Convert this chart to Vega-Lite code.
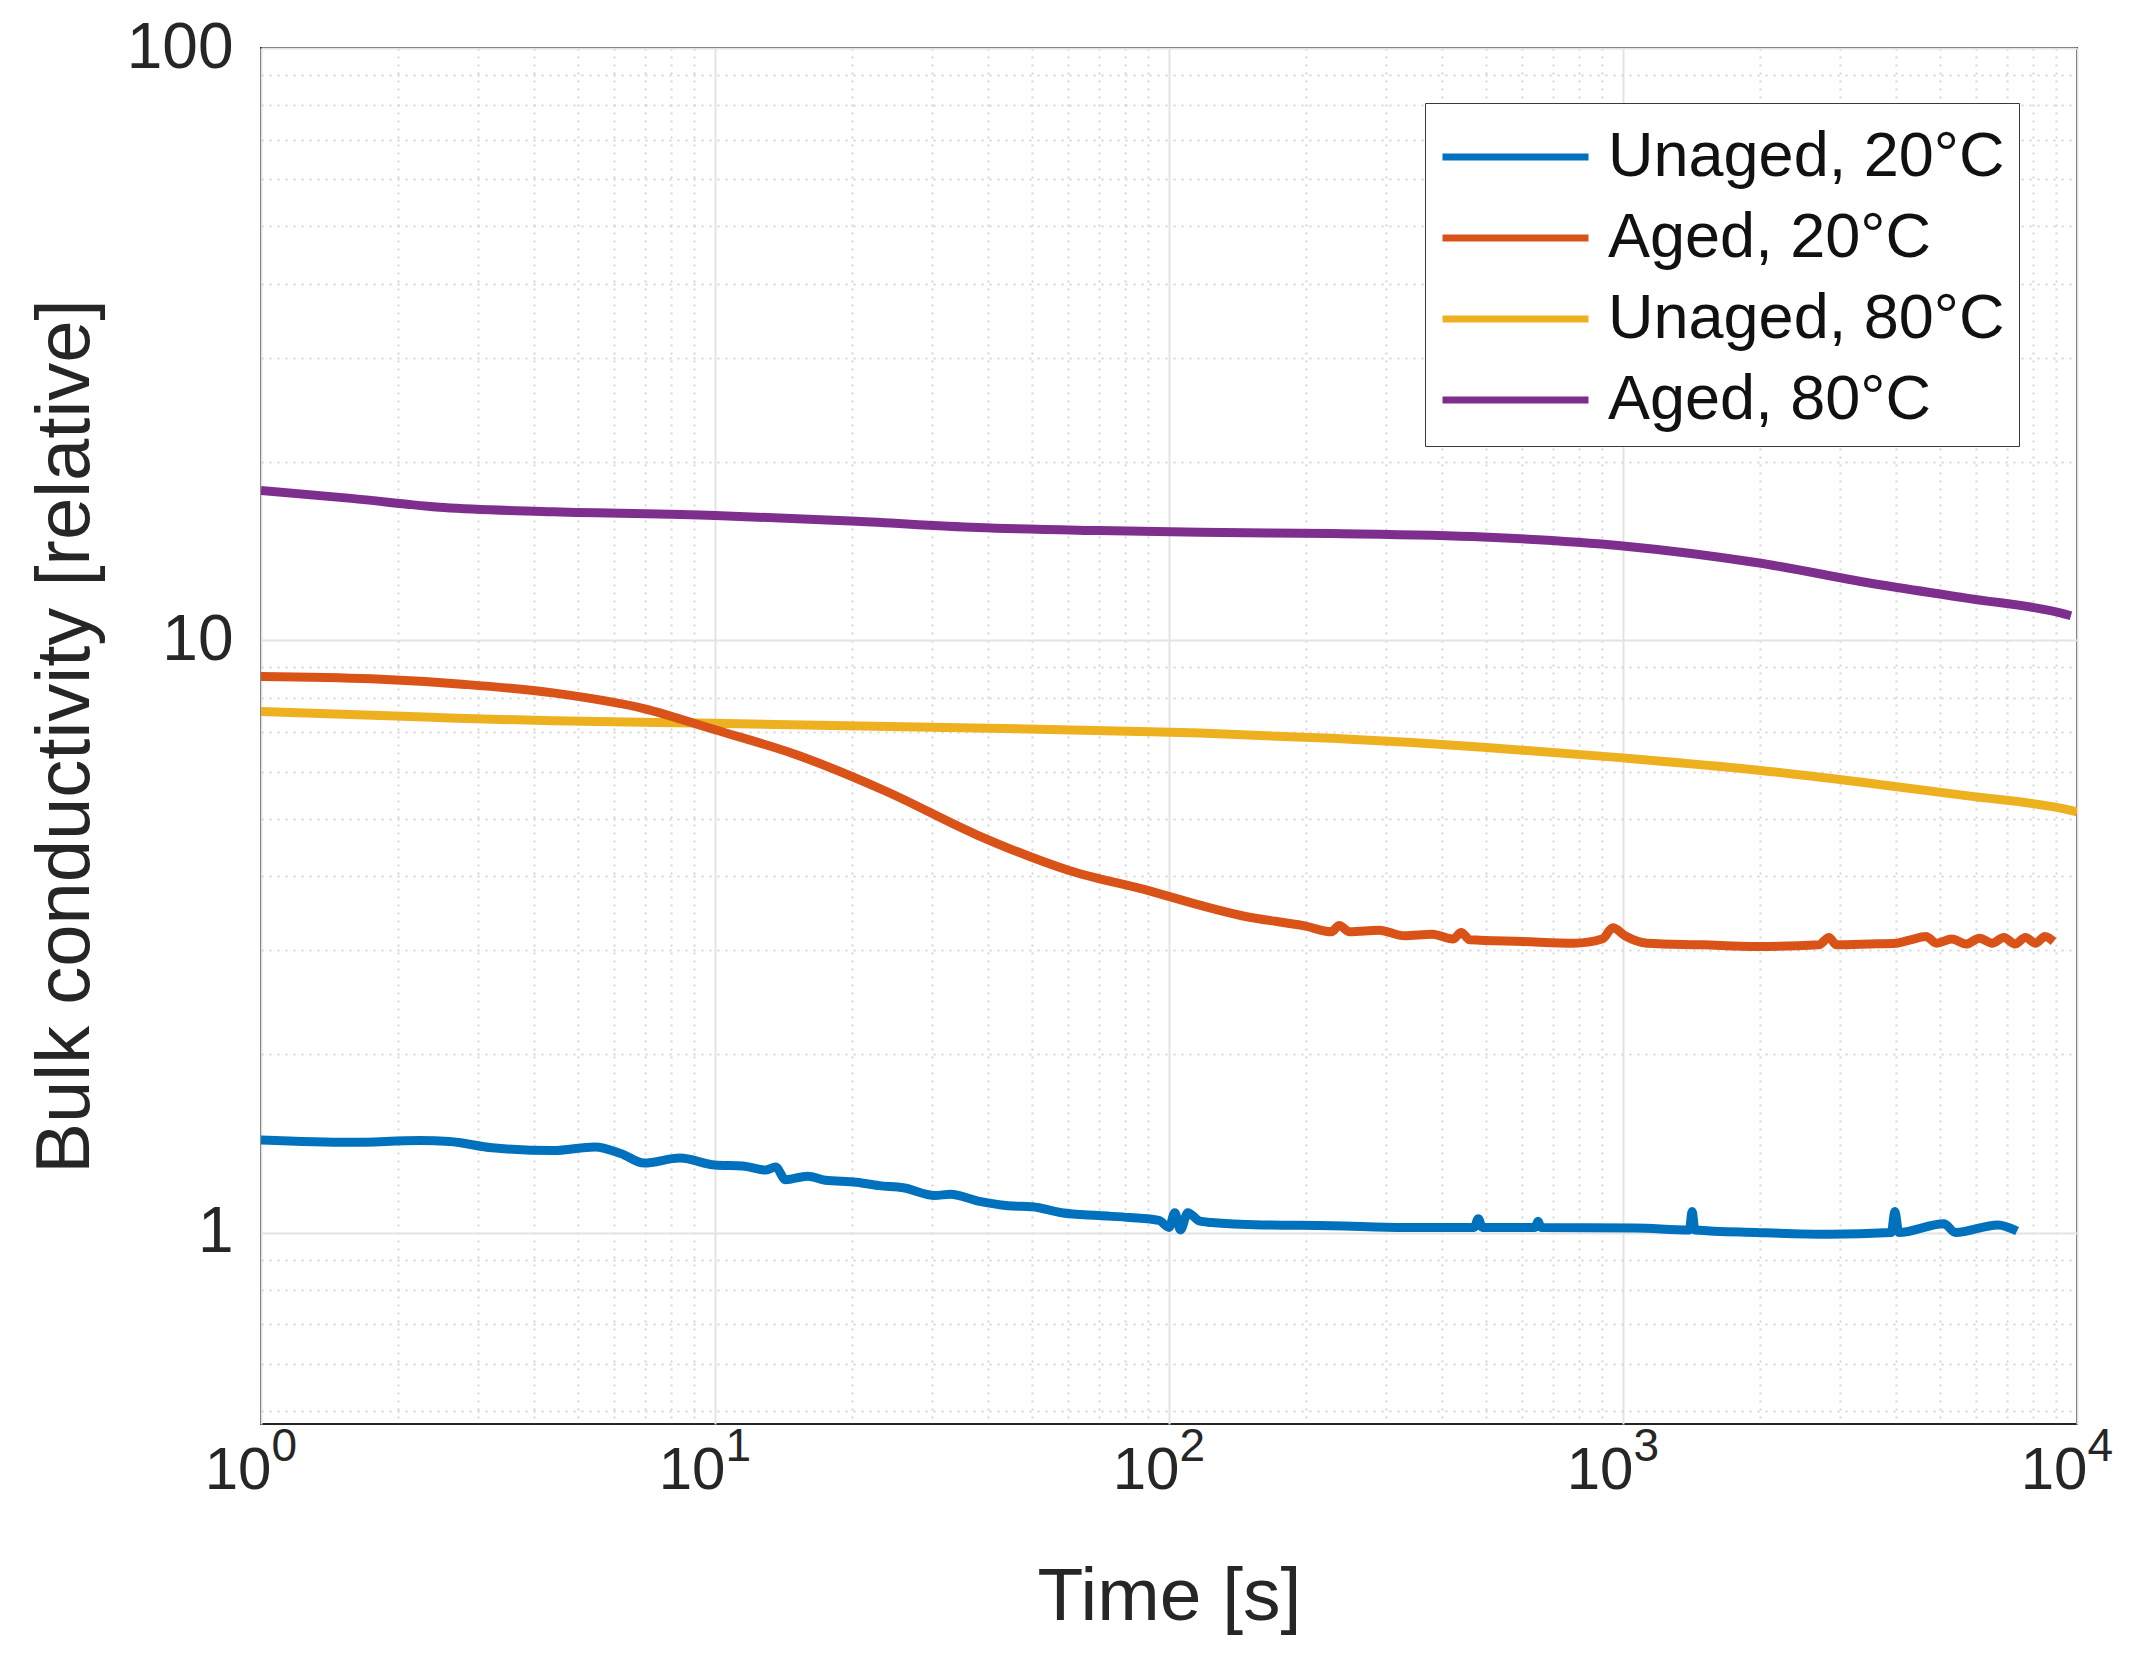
{
  "$schema": "https://vega.github.io/schema/vega-lite/v6.json",
  "width": 1816,
  "height": 1376,
  "autosize": "none",
  "padding": {"left": 261, "top": 48, "right": 77, "bottom": 247},
  "background": "white",
  "config": {
    "view": {"stroke": "#262626", "strokeWidth": 2},
    "font": "Liberation Sans",
    "axis": {
      "labelFont": "Liberation Sans",
      "titleFont": "Liberation Sans",
      "labelColor": "#262626",
      "titleColor": "#262626",
      "titleFontWeight": "normal",
      "domain": false,
      "ticks": false,
      "labelOverlap": false,
      "labelFlush": false,
      "gridWidth": 2
    },
    "legend": {
      "labelFont": "Liberation Sans",
      "labelFontSize": 63,
      "labelColor": "#111111",
      "labelLimit": 0
    }
  },
  "data": {
    "values": [
      {"series": "Aged, 80°C", "t": 1, "v": 17.9},
      {"series": "Aged, 80°C", "t": 1.58, "v": 17.36},
      {"series": "Aged, 80°C", "t": 2.53, "v": 16.75},
      {"series": "Aged, 80°C", "t": 4.4, "v": 16.48},
      {"series": "Aged, 80°C", "t": 10, "v": 16.25},
      {"series": "Aged, 80°C", "t": 20.5, "v": 15.88},
      {"series": "Aged, 80°C", "t": 37.8, "v": 15.5},
      {"series": "Aged, 80°C", "t": 70, "v": 15.32},
      {"series": "Aged, 80°C", "t": 117, "v": 15.22},
      {"series": "Aged, 80°C", "t": 228, "v": 15.14},
      {"series": "Aged, 80°C", "t": 492, "v": 14.94},
      {"series": "Aged, 80°C", "t": 1000, "v": 14.43},
      {"series": "Aged, 80°C", "t": 1963, "v": 13.53},
      {"series": "Aged, 80°C", "t": 3625, "v": 12.43},
      {"series": "Aged, 80°C", "t": 5755, "v": 11.77},
      {"series": "Aged, 80°C", "t": 9415, "v": 11.07},
      {"series": "Aged, 80°C", "t": 9700, "v": 11.0},

      {"series": "Unaged, 80°C", "t": 1, "v": 7.58},
      {"series": "Unaged, 80°C", "t": 2.38, "v": 7.41},
      {"series": "Unaged, 80°C", "t": 4.4, "v": 7.31},
      {"series": "Unaged, 80°C", "t": 10, "v": 7.24},
      {"series": "Unaged, 80°C", "t": 27.9, "v": 7.14},
      {"series": "Unaged, 80°C", "t": 91, "v": 7.01},
      {"series": "Unaged, 80°C", "t": 117, "v": 6.97},
      {"series": "Unaged, 80°C", "t": 228, "v": 6.83},
      {"series": "Unaged, 80°C", "t": 492, "v": 6.6},
      {"series": "Unaged, 80°C", "t": 1000, "v": 6.33},
      {"series": "Unaged, 80°C", "t": 1963, "v": 6.04},
      {"series": "Unaged, 80°C", "t": 3855, "v": 5.68},
      {"series": "Unaged, 80°C", "t": 5755, "v": 5.46},
      {"series": "Unaged, 80°C", "t": 9700, "v": 5.16},
      {"series": "Unaged, 80°C", "t": 10000, "v": 5.13},

      {"series": "Aged, 20°C", "t": 1, "v": 8.69},
      {"series": "Aged, 20°C", "t": 1.75, "v": 8.61},
      {"series": "Aged, 20°C", "t": 2.77, "v": 8.43},
      {"series": "Aged, 20°C", "t": 4.4, "v": 8.15},
      {"series": "Aged, 20°C", "t": 7, "v": 7.66},
      {"series": "Aged, 20°C", "t": 10, "v": 7.06},
      {"series": "Aged, 20°C", "t": 15, "v": 6.42},
      {"series": "Aged, 20°C", "t": 23.8, "v": 5.56},
      {"series": "Aged, 20°C", "t": 37.8, "v": 4.69},
      {"series": "Aged, 20°C", "t": 60, "v": 4.09},
      {"series": "Aged, 20°C", "t": 91, "v": 3.77},
      {"series": "Aged, 20°C", "t": 117, "v": 3.57},
      {"series": "Aged, 20°C", "t": 144, "v": 3.43},
      {"series": "Aged, 20°C", "t": 200, "v": 3.29},
      {"series": "Aged, 20°C", "t": 228, "v": 3.22},
      {"series": "Aged, 20°C", "t": 237, "v": 3.3},
      {"series": "Aged, 20°C", "t": 250, "v": 3.22},
      {"series": "Aged, 20°C", "t": 290, "v": 3.24},
      {"series": "Aged, 20°C", "t": 330, "v": 3.17},
      {"series": "Aged, 20°C", "t": 380, "v": 3.19},
      {"series": "Aged, 20°C", "t": 422, "v": 3.13},
      {"series": "Aged, 20°C", "t": 440, "v": 3.21},
      {"series": "Aged, 20°C", "t": 460, "v": 3.12},
      {"series": "Aged, 20°C", "t": 600, "v": 3.1},
      {"series": "Aged, 20°C", "t": 780, "v": 3.08},
      {"series": "Aged, 20°C", "t": 900, "v": 3.13},
      {"series": "Aged, 20°C", "t": 950, "v": 3.27},
      {"series": "Aged, 20°C", "t": 1010, "v": 3.17},
      {"series": "Aged, 20°C", "t": 1130, "v": 3.08},
      {"series": "Aged, 20°C", "t": 1500, "v": 3.06},
      {"series": "Aged, 20°C", "t": 1963, "v": 3.04},
      {"series": "Aged, 20°C", "t": 2700, "v": 3.06},
      {"series": "Aged, 20°C", "t": 2843, "v": 3.15},
      {"series": "Aged, 20°C", "t": 2950, "v": 3.06},
      {"series": "Aged, 20°C", "t": 3500, "v": 3.07},
      {"series": "Aged, 20°C", "t": 4000, "v": 3.08},
      {"series": "Aged, 20°C", "t": 4300, "v": 3.12},
      {"series": "Aged, 20°C", "t": 4650, "v": 3.16},
      {"series": "Aged, 20°C", "t": 4900, "v": 3.08},
      {"series": "Aged, 20°C", "t": 5300, "v": 3.13},
      {"series": "Aged, 20°C", "t": 5700, "v": 3.07},
      {"series": "Aged, 20°C", "t": 6100, "v": 3.14},
      {"series": "Aged, 20°C", "t": 6500, "v": 3.08},
      {"series": "Aged, 20°C", "t": 6900, "v": 3.15},
      {"series": "Aged, 20°C", "t": 7300, "v": 3.07},
      {"series": "Aged, 20°C", "t": 7700, "v": 3.15},
      {"series": "Aged, 20°C", "t": 8100, "v": 3.08},
      {"series": "Aged, 20°C", "t": 8500, "v": 3.16},
      {"series": "Aged, 20°C", "t": 8880, "v": 3.1},

      {"series": "Unaged, 20°C", "t": 1, "v": 1.433},
      {"series": "Unaged, 20°C", "t": 1.58, "v": 1.42},
      {"series": "Unaged, 20°C", "t": 2.24, "v": 1.43},
      {"series": "Unaged, 20°C", "t": 2.6, "v": 1.425},
      {"series": "Unaged, 20°C", "t": 3.23, "v": 1.39},
      {"series": "Unaged, 20°C", "t": 4.4, "v": 1.375},
      {"series": "Unaged, 20°C", "t": 5.44, "v": 1.395},
      {"series": "Unaged, 20°C", "t": 6.2, "v": 1.36},
      {"series": "Unaged, 20°C", "t": 6.98, "v": 1.31},
      {"series": "Unaged, 20°C", "t": 8.37, "v": 1.336},
      {"series": "Unaged, 20°C", "t": 10, "v": 1.3},
      {"series": "Unaged, 20°C", "t": 11.5, "v": 1.295},
      {"series": "Unaged, 20°C", "t": 12.9, "v": 1.275},
      {"series": "Unaged, 20°C", "t": 13.6, "v": 1.29},
      {"series": "Unaged, 20°C", "t": 14.3, "v": 1.228},
      {"series": "Unaged, 20°C", "t": 16, "v": 1.245},
      {"series": "Unaged, 20°C", "t": 17.5, "v": 1.225},
      {"series": "Unaged, 20°C", "t": 20.5, "v": 1.216},
      {"series": "Unaged, 20°C", "t": 23, "v": 1.2},
      {"series": "Unaged, 20°C", "t": 26, "v": 1.19},
      {"series": "Unaged, 20°C", "t": 30.5, "v": 1.155},
      {"series": "Unaged, 20°C", "t": 33, "v": 1.16},
      {"series": "Unaged, 20°C", "t": 38, "v": 1.13},
      {"series": "Unaged, 20°C", "t": 44.2, "v": 1.11},
      {"series": "Unaged, 20°C", "t": 50, "v": 1.105},
      {"series": "Unaged, 20°C", "t": 58, "v": 1.08},
      {"series": "Unaged, 20°C", "t": 70, "v": 1.068},
      {"series": "Unaged, 20°C", "t": 82, "v": 1.06},
      {"series": "Unaged, 20°C", "t": 95, "v": 1.048},
      {"series": "Unaged, 20°C", "t": 100, "v": 1.02},
      {"series": "Unaged, 20°C", "t": 103, "v": 1.08},
      {"series": "Unaged, 20°C", "t": 106, "v": 1.01},
      {"series": "Unaged, 20°C", "t": 110, "v": 1.08},
      {"series": "Unaged, 20°C", "t": 117, "v": 1.045},
      {"series": "Unaged, 20°C", "t": 124, "v": 1.04},
      {"series": "Unaged, 20°C", "t": 160, "v": 1.03},
      {"series": "Unaged, 20°C", "t": 228, "v": 1.027},
      {"series": "Unaged, 20°C", "t": 330, "v": 1.02},
      {"series": "Unaged, 20°C", "t": 470, "v": 1.02},
      {"series": "Unaged, 20°C", "t": 480, "v": 1.055},
      {"series": "Unaged, 20°C", "t": 490, "v": 1.02},
      {"series": "Unaged, 20°C", "t": 640, "v": 1.02},
      {"series": "Unaged, 20°C", "t": 650, "v": 1.045},
      {"series": "Unaged, 20°C", "t": 660, "v": 1.02},
      {"series": "Unaged, 20°C", "t": 1064, "v": 1.018},
      {"series": "Unaged, 20°C", "t": 1400, "v": 1.01},
      {"series": "Unaged, 20°C", "t": 1420, "v": 1.085},
      {"series": "Unaged, 20°C", "t": 1440, "v": 1.01},
      {"series": "Unaged, 20°C", "t": 1963, "v": 1.0},
      {"series": "Unaged, 20°C", "t": 2843, "v": 0.993},
      {"series": "Unaged, 20°C", "t": 3900, "v": 1.0},
      {"series": "Unaged, 20°C", "t": 3970, "v": 1.085},
      {"series": "Unaged, 20°C", "t": 4050, "v": 1.0},
      {"series": "Unaged, 20°C", "t": 5090, "v": 1.035},
      {"series": "Unaged, 20°C", "t": 5400, "v": 1.0},
      {"series": "Unaged, 20°C", "t": 6700, "v": 1.03},
      {"series": "Unaged, 20°C", "t": 7380, "v": 1.006}
    ]
  },
  "layer": [
    {
      "mark": {"type": "line", "strokeWidth": 9, "interpolate": "monotone", "clip": true},
      "encoding": {
        "x": {
          "field": "t",
          "type": "quantitative",
          "scale": {"type": "log", "domain": [1, 10000], "nice": false},
          "axis": {
            "title": "Time [s]",
            "titleFontSize": 75,
            "labelFontSize": 60,
            "values": [1, 2, 3, 4, 5, 6, 7, 8, 9, 10, 20, 30, 40, 50, 60, 70, 80, 90, 100, 200, 300, 400, 500, 600, 700, 800, 900, 1000, 2000, 3000, 4000, 5000, 6000, 7000, 8000, 9000, 10000],
            "labelExpr": "indexof([1, 10, 100, 1000, 10000], datum.value) >= 0 ? '10' : ''",
            "labelAlign": "right",
            "labelOffset": 10,
            "labelPadding": 17,
            "titlePadding": 60,
            "gridColor": {"condition": {"test": "indexof([1, 10, 100, 1000, 10000], datum.value) < 0", "value": "#d4d4d4"}, "value": "#e3e3e3"},
            "gridDash": {"condition": {"test": "indexof([1, 10, 100, 1000, 10000], datum.value) < 0", "value": [2, 6]}, "value": []}
          }
        },
        "y": {
          "field": "v",
          "type": "quantitative",
          "scale": {"type": "log", "domain": [0.475, 100], "nice": false},
          "axis": {
            "title": "Bulk conductivity [relative]",
            "titleFontSize": 76,
            "labelFontSize": 64,
            "values": [0.5, 0.6, 0.7, 0.8, 0.9, 1, 2, 3, 4, 5, 6, 7, 8, 9, 10, 20, 30, 40, 50, 60, 70, 80, 90, 100],
            "labelExpr": "datum.value == 1 ? '1' : datum.value == 10 ? '10' : datum.value == 100 ? '100' : ''",
            "labelPadding": 28,
            "titlePadding": 22,
            "gridColor": {"condition": {"test": "indexof([1, 10, 100], datum.value) < 0", "value": "#d4d4d4"}, "value": "#e3e3e3"},
            "gridDash": {"condition": {"test": "indexof([1, 10, 100], datum.value) < 0", "value": [2, 6]}, "value": []}
          }
        },
        "color": {
          "field": "series",
          "type": "nominal",
          "scale": {
            "domain": ["Unaged, 20°C", "Aged, 20°C", "Unaged, 80°C", "Aged, 80°C"],
            "range": ["#0072BD", "#D95319", "#EDB120", "#7E2F8E"]
          },
          "legend": {
            "title": null,
            "orient": "none",
            "legendX": 1164,
            "legendY": 55,
            "symbolType": "M-1,0H3",
            "symbolStrokeWidth": 7,
            "symbolSize": 5329,
            "labelOffset": 89,
            "rowPadding": 9,
            "padding": 14,
            "strokeColor": "#3a3a3a",
            "fillColor": "white",
            "cornerRadius": 0
          }
        }
      }
    },
    {
      "mark": {"type": "line", "strokeOpacity": 0},
      "encoding": {
        "x": {
          "field": "t",
          "type": "quantitative",
          "axis": {
            "orient": "bottom",
            "title": null,
            "grid": false,
            "values": [1, 10, 100, 1000, 10000],
            "labelExpr": "'' + round(log(datum.value) / LN10)",
            "labelFontSize": 46,
            "labelAlign": "left",
            "labelOffset": 10,
            "labelPadding": 0
          }
        },
        "y": {"field": "v", "type": "quantitative"},
        "detail": {"field": "series"}
      }
    }
  ],
  "resolve": {"axis": {"x": "independent"}}
}
